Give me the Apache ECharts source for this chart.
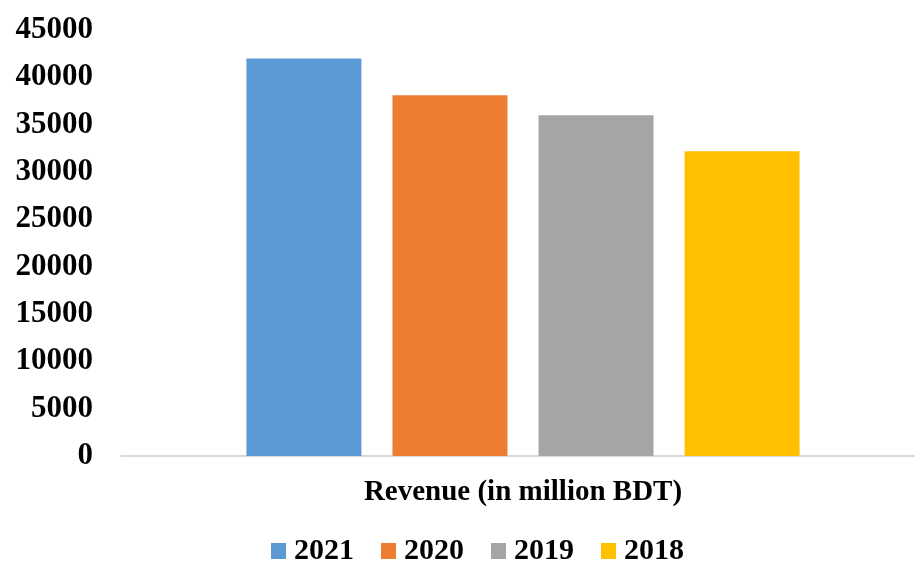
<!DOCTYPE html>
<html>
<head>
<meta charset="utf-8">
<script src="https://cdn.jsdelivr.net/npm/echarts@6/dist/echarts.min.js"></script>
<style>
  html, body { margin: 0; padding: 0; background: #fff; overflow: hidden; }
  #chart { width: 925px; height: 561px; }
</style>
</head>
<body>
<div id="chart"></div>
<script>
// Revenue by year
const categories = ['Revenue (in million BDT)'];
const years = ['2021', '2020', '2019', '2018'];
const revenue2021 = [42000];
const revenue2020 = [38100];
const revenue2019 = [36000];
const revenue2018 = [32200];
const colors = ['#5b9bd5', '#ed7d31', '#a5a5a5', '#ffc000'];

const seriesValues = [revenue2021, revenue2020, revenue2019, revenue2018];
const font = '"Liberation Serif", "Times New Roman", serif';

const chart = echarts.init(document.getElementById('chart'));
chart.setOption({
  animation: false,
  backgroundColor: '#ffffff',
  textStyle: { fontFamily: font },
  grid: { left: 121, right: 0, top: 30, bottom: 105, containLabel: false },
  legend: {
    data: years,
    top: 531,
    left: 266,
    itemWidth: 15,
    itemHeight: 16,
    itemGap: 27,
    icon: 'rect',
    textStyle: {
      fontFamily: font, fontSize: 30, fontWeight: 'bold', color: '#000',
      padding: [0, 0, 0, 3]
    }
  },
  xAxis: {
    type: 'category',
    data: categories,
    axisLine: { lineStyle: { color: '#d9d9d9', width: 2 } },
    axisTick: { show: false },
    axisLabel: {
      fontFamily: font, fontSize: 29, fontWeight: 'bold', color: '#000', margin: 22
    }
  },
  yAxis: {
    type: 'value',
    min: 0,
    max: 45000,
    interval: 5000,
    axisLine: { show: false },
    axisTick: { show: false },
    splitLine: { show: false },
    axisLabel: {
      fontFamily: font, fontSize: 31, fontWeight: 'bold', color: '#000', margin: 28,
      formatter: (v) => String(v)
    }
  },
  series: years.map((y, i) => ({
    name: y,
    type: 'bar',
    data: seriesValues[i],
    barWidth: 115,
    barGap: '27%',
    itemStyle: { color: colors[i] }
  }))
});
</script>
</body>
</html>
